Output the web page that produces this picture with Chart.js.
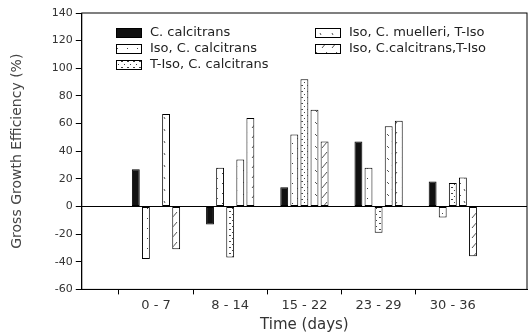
<!DOCTYPE html>
<html>
<head>
<meta charset="utf-8">
<script src="https://cdn.jsdelivr.net/npm/chart.js@4"></script>
<style>
  html, body { margin: 0; padding: 0; background: #fff; }
  #wrap { width: 530px; height: 334px; }
</style>
</head>
<body>
<div id="wrap"><canvas id="gge-chart"></canvas></div>
<script>
// chart values
const categories = ['0 - 7', '8 - 14', '15 - 22', '23 - 29', '30 - 36'];
const seriesNames = [
  'C. calcitrans',
  'Iso, C. calcitrans',
  'T-Iso, C. calcitrans',
  'Iso, C. muelleri, T-Iso',
  'Iso, C.calcitrans,T-Iso'
];
const cCalcitrans = [27, -13, 14, 47, 18];
const isoCalcitrans = [-38, 28, 52, 28, -8];
const tIsoCalcitrans = [null, -37, 92, -19, 17];
const isoMuelleriTIso = [67, 34, 70, 58, 21];
const isoCalcitransTIso = [-31, 64, 47, 62, -36];
const yMin = -60, yMax = 140, yStep = 20;

const canvas = document.getElementById('gge-chart');
const ctx = canvas.getContext('2d');

// little fill patterns to imitate the plotter hatching
const makePattern = (size, draw) => {
  const c = document.createElement('canvas');
  c.width = size; c.height = size;
  const g = c.getContext('2d');
  g.fillStyle = '#fff';
  g.fillRect(0, 0, size, size);
  g.fillStyle = '#444';
  g.strokeStyle = '#555';
  g.lineWidth = 1;
  draw(g);
  return ctx.createPattern(c, 'repeat');
};

const sparseDots = makePattern(10, g => {
  g.fillRect(2, 3, 1, 1);
  g.fillRect(7, 8, 1, 1);
});
const denseDots = makePattern(6, g => {
  g.fillRect(1, 1, 2, 1);
  g.fillRect(4, 4, 1, 1);
});
const dashes = makePattern(12, g => {
  g.beginPath();
  g.moveTo(3, 2); g.lineTo(5, 4);
  g.moveTo(8, 9); g.lineTo(9, 11);
  g.stroke();
});
const slashes = makePattern(10, g => {
  g.beginPath();
  g.moveTo(2, 8); g.lineTo(7, 2);
  g.stroke();
});

const fills = ['#111', sparseDots, denseDots, dashes, slashes];
const seriesValues = [cCalcitrans, isoCalcitrans, tIsoCalcitrans, isoMuelleriTIso, isoCalcitransTIso];

// empty slot on each side so the groups sit on the ticks like the original
const labels = ['', ...categories, ''];

const datasets = seriesValues.map((vals, i) => ({
  label: seriesNames[i],
  data: [null, ...vals, null],
  backgroundColor: fills[i],
  borderColor: '#000',
  borderWidth: 1,
  borderSkipped: false,
  categoryPercentage: 0.68,
  barPercentage: 0.78
}));

// frame round the plot + legend boxes placed like the figure
const framePlugin = {
  id: 'frame',
  afterDraw(chart) {
    const { ctx, chartArea: a } = chart;
    ctx.save();
    ctx.strokeStyle = '#000';
    ctx.lineWidth = 1;
    ctx.strokeRect(a.left, a.top, a.right - a.left, a.bottom - a.top);

    const spots = [[116, 28], [116, 44], [116, 60], [315, 28], [315, 44]];
    ctx.font = '13px "DejaVu Sans"';
    ctx.textBaseline = 'middle';
    chart.data.datasets.forEach((ds, i) => {
      const [x, y] = spots[i];
      ctx.fillStyle = ds.backgroundColor;
      ctx.fillRect(x, y, 25, 9);
      ctx.strokeRect(x + 0.5, y + 0.5, 25, 9);
      ctx.fillStyle = '#222';
      ctx.fillText(ds.label, x + 34, y + 5);
    });
    ctx.restore();
  }
};

new Chart(ctx, {
  type: 'bar',
  data: { labels: labels, datasets: datasets },
  options: {
    responsive: true,
    maintainAspectRatio: false,
    animation: false,
    layout: { padding: { top: 13, right: 1, left: 9, bottom: 0 } },
    plugins: {
      legend: { display: false },
      tooltip: { enabled: false }
    },
    scales: {
      x: {
        offset: false,
        grid: {
          drawOnChartArea: false,
          tickLength: 5,
          tickColor: c => (c.index === 0 || c.index === labels.length - 1) ? 'transparent' : '#000'
        },
        border: { color: '#000' },
        ticks: {
          color: '#333',
          font: { family: 'DejaVu Sans', size: 13 },
          maxRotation: 0,
          autoSkip: false,
          padding: 3
        },
        title: {
          display: true,
          text: 'Time (days)',
          color: '#333',
          font: { family: 'DejaVu Sans', size: 15 },
          padding: { top: 0, bottom: 0 }
        }
      },
      y: {
        min: yMin,
        max: yMax,
        ticks: {
          stepSize: yStep,
          color: '#333',
          font: { family: 'DejaVu Sans', size: 11 },
          padding: 3
        },
        grid: {
          tickLength: 6,
          tickColor: '#000',
          color: c => (c.tick && c.tick.value === 0) ? '#000' : 'transparent'
        },
        border: { color: '#000' },
        title: {
          display: true,
          text: 'Gross Growth Efficiency (%)',
          color: '#444',
          font: { family: 'DejaVu Sans', size: 14 },
          padding: { top: 0, bottom: 23 }
        }
      }
    }
  },
  plugins: [framePlugin]
});
</script>
</body>
</html>
